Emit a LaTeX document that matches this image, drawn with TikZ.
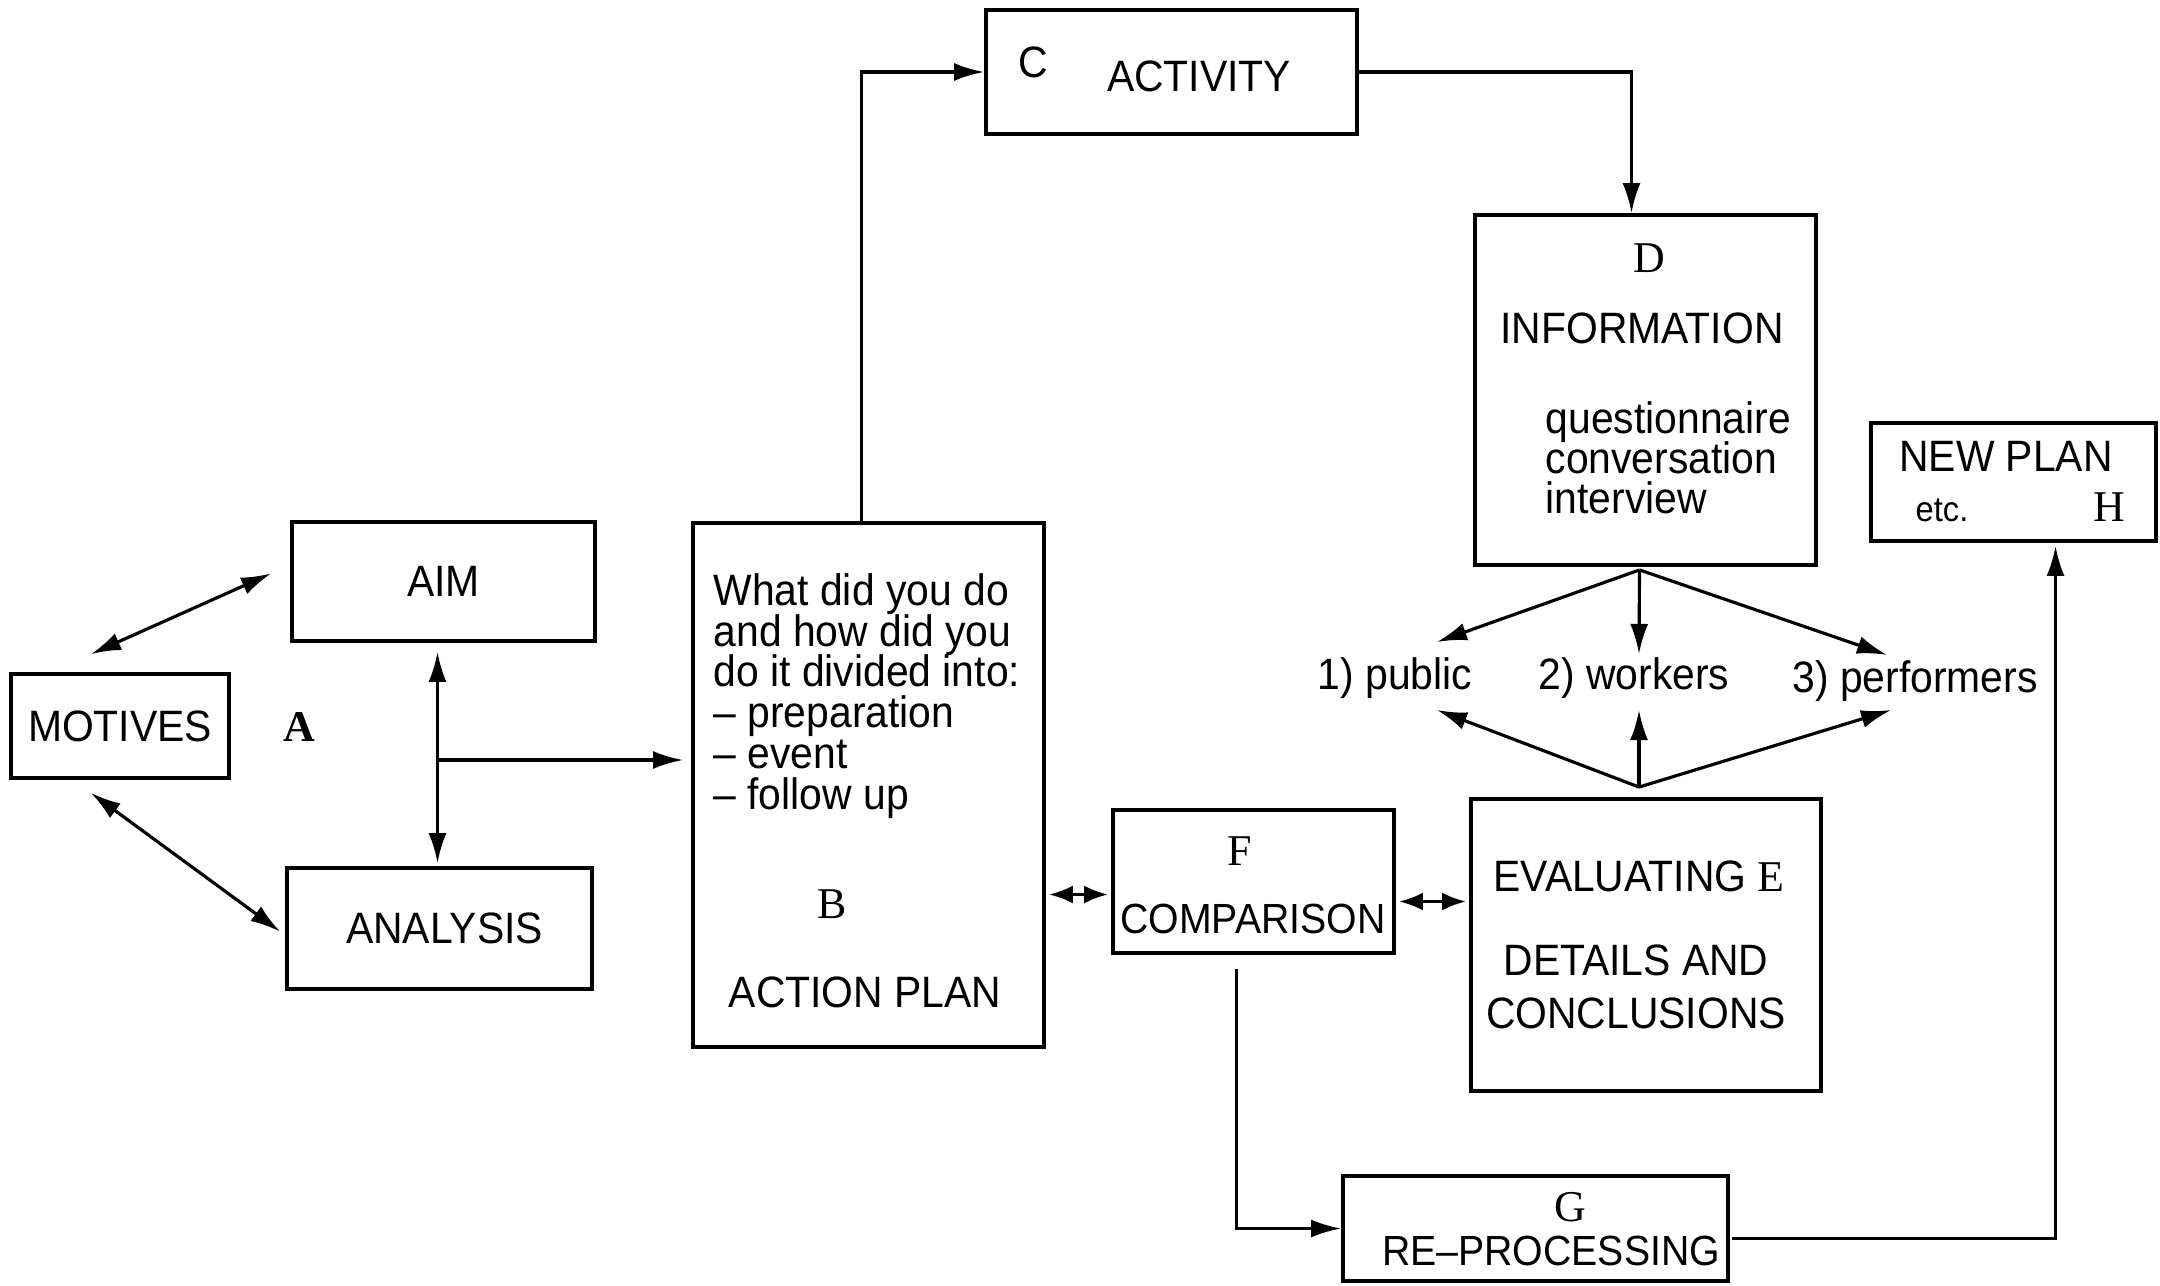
\documentclass[tikz,border=0pt]{standalone}
\usepackage{fontspec}
\setmainfont{Liberation Sans}[FakeStretch=0.93]
\newfontfamily\lettfont{Liberation Serif}
\newcommand\tightlines{\lineskiplimit=-8pt\relax}
\usetikzlibrary{arrows.meta,positioning,calc}

\begin{document}
\begin{tikzpicture}[>={Latex[length=3mm,width=1.8mm]}, line width=0.9pt,
	   font=\fontsize{12.5}{12}\selectfont,
	   b/.style={draw, line width=1.1pt, inner sep=0pt},
	   txt/.style={inner sep=0pt},
	   ltr/.style={inner sep=0pt, font=\fontsize{12.5}{12}\selectfont\lettfont}]
	  \useasboundingbox (0,0) rectangle (21.6,-12.85);
	  % boxes
	  \node[b, minimum width=21.8mm, minimum height=10.4mm] (motives) at (1.20,-7.26) {MOTIVES};
	  \node[b, minimum width=30.3mm, minimum height=11.9mm] (aim) at (4.435,-5.815) {AIM};
	  \node[b, minimum width=30.5mm, minimum height=12.1mm] (analysis) at (4.395,-9.285) {\hspace{1mm}ANALYSIS};
	  \node[b, minimum width=35.1mm, minimum height=52.4mm] (plan) at (8.685,-7.85) {};
	  \node[b, minimum width=37.1mm, minimum height=12.4mm] (activity) at (11.715,-0.72) {};
	  \node[b, minimum width=34.1mm, minimum height=35mm] (info) at (16.455,-3.90) {};
	  \node[b, minimum width=28.5mm, minimum height=11.8mm] (newplan) at (20.135,-4.82) {};
	  \node[b, minimum width=28.1mm, minimum height=14.3mm] (comparison) at (12.535,-8.815) {};
	  \node[b, minimum width=35mm, minimum height=29.2mm] (evaluating) at (16.46,-9.45) {};
	  \node[b, minimum width=38.5mm, minimum height=10.5mm] (reproc) at (15.355,-12.285) {};
	  % texts
	  \node[ltr, font=\fontsize{12.5}{12}\selectfont\lettfont\bfseries] (lA) at (2.99,-7.27) {A};
	  \node[txt, anchor=north west, align=left, font=\fontsize{12.5}{11.6}\selectfont\tightlines] (steps) at (7.12,-5.72)
	     {What did you do\\and how did you\\do it divided into:\\– preparation\\– event\\– follow up};
	  \node[ltr] (lB) at (8.32,-9.04) {B};
	  \node[txt] (planname) at (8.65,-9.92) {ACTION PLAN};
	  \node[txt] (lC) at (10.33,-0.62) {C};
	  \node[txt] (acttext) at (11.99,-0.76) {ACTIVITY};
	  \node[ltr] (lD) at (16.49,-2.58) {D};
	  \node[txt] (infotext) at (16.42,-3.28) {INFORMATION};
	  \node[txt, anchor=north west, align=left, font=\fontsize{12.5}{11.4}\selectfont\tightlines] (methods) at (15.44,-4.00)
	     {questionnaire\\conversation\\interview};
	  \node[txt] (pub) at (13.95,-6.78) {1) public};
	  \node[txt] (work) at (16.34,-6.78) {2) workers};
	  \node[txt] (perf) at (19.15,-6.81) {3) performers};
	  \node[txt] (newtext) at (20.06,-4.56) {NEW PLAN};
	  \node[txt, font=\fontsize{10}{10}\selectfont] (etc) at (19.42,-5.10) {etc.};
	  \node[ltr] (lH) at (21.09,-5.07) {H};
	  \node[ltr] (lF) at (12.40,-8.51) {F};
	  \node[txt, font=\fontsize{12}{12}\selectfont] (comptext) at (12.53,-9.19) {COMPARISON};
	  \node[txt] (evaltext) at (16.39,-8.76) {EVALUATING {\lettfont E}};
	  \node[txt, align=center, font=\fontsize{12.5}{15}\selectfont] (concl) at (16.36,-9.87) {DETAILS AND\\CONCLUSIONS};
	  \node[ltr] (lG) at (15.70,-12.07) {G};
	  \node[txt, font=\fontsize{12}{12}\selectfont] (reptext) at (15.51,-12.51) {RE–PROCESSING};
	  % connectors
	  \coordinate (split) at (4.37,-7.60);
	  \coordinate (dfork) at ([shift={(-0.06,-0.03)}]info.south);
	  \coordinate (efork) at ([shift={(-0.07,0.10)}]evaluating.north);
	  \draw[<->] ([shift={(-0.29,0.18)}]motives.north) -- ([shift={(-0.19,0.08)}]aim.west);
	  \draw[<->] ([shift={(-0.29,-0.13)}]motives.south) -- ([shift={(-0.05,-0.03)}]analysis.west);
	  \draw[<->] ([shift={(-0.06,-0.09)}]aim.south) -- ([shift={(-0.06,0.03)}]aim.south |- analysis.north);
	  \draw[->, shorten >=0.8mm] (split) -- (split -| plan.west);
	  \draw[->] ([xshift=-0.7mm]plan.north) |- (activity.west);
	  \draw[->] (activity.east) -| ([xshift=-1.4mm]info.north);
	  \draw[->] (dfork) -- ([shift={(0.42,0.14)}]pub.north);
	  \draw[->] (dfork) -- ([shift={(0.05,0.02)}]work.north);
	  \draw[->] (dfork) -- ([shift={(-0.28,0.04)}]perf.north);
	  \draw[->] (efork) -- ([shift={(0.42,-0.10)}]pub.south);
	  \draw[->] (efork) -- ([shift={(0.05,-0.10)}]work.south);
	  \draw[->] (efork) -- ([shift={(-0.24,-0.07)}]perf.south);
	  \draw[<->, >={Latex[length=2.4mm,width=1.8mm]}, shorten <=0.3mm, shorten >=0.3mm]
	     ([yshift=-1.3mm]comparison.west) -- ([yshift=-1.3mm]comparison.west -| plan.east);
	  \draw[<->, >={Latex[length=2.4mm,width=1.8mm]}, shorten <=0.3mm, shorten >=0.3mm]
	     ([yshift=-2mm]comparison.east) -- ([yshift=-2mm]comparison.east -| evaluating.west);
	  \draw[->] ([shift={(-0.17,-0.14)}]comparison.south) |- (reproc.west);
	  \draw[->] ([shift={(0.02,-0.1)}]reproc.east) -| ([shift={(0.42,-0.03)}]newplan.south);
	\end{tikzpicture}
\end{document}
